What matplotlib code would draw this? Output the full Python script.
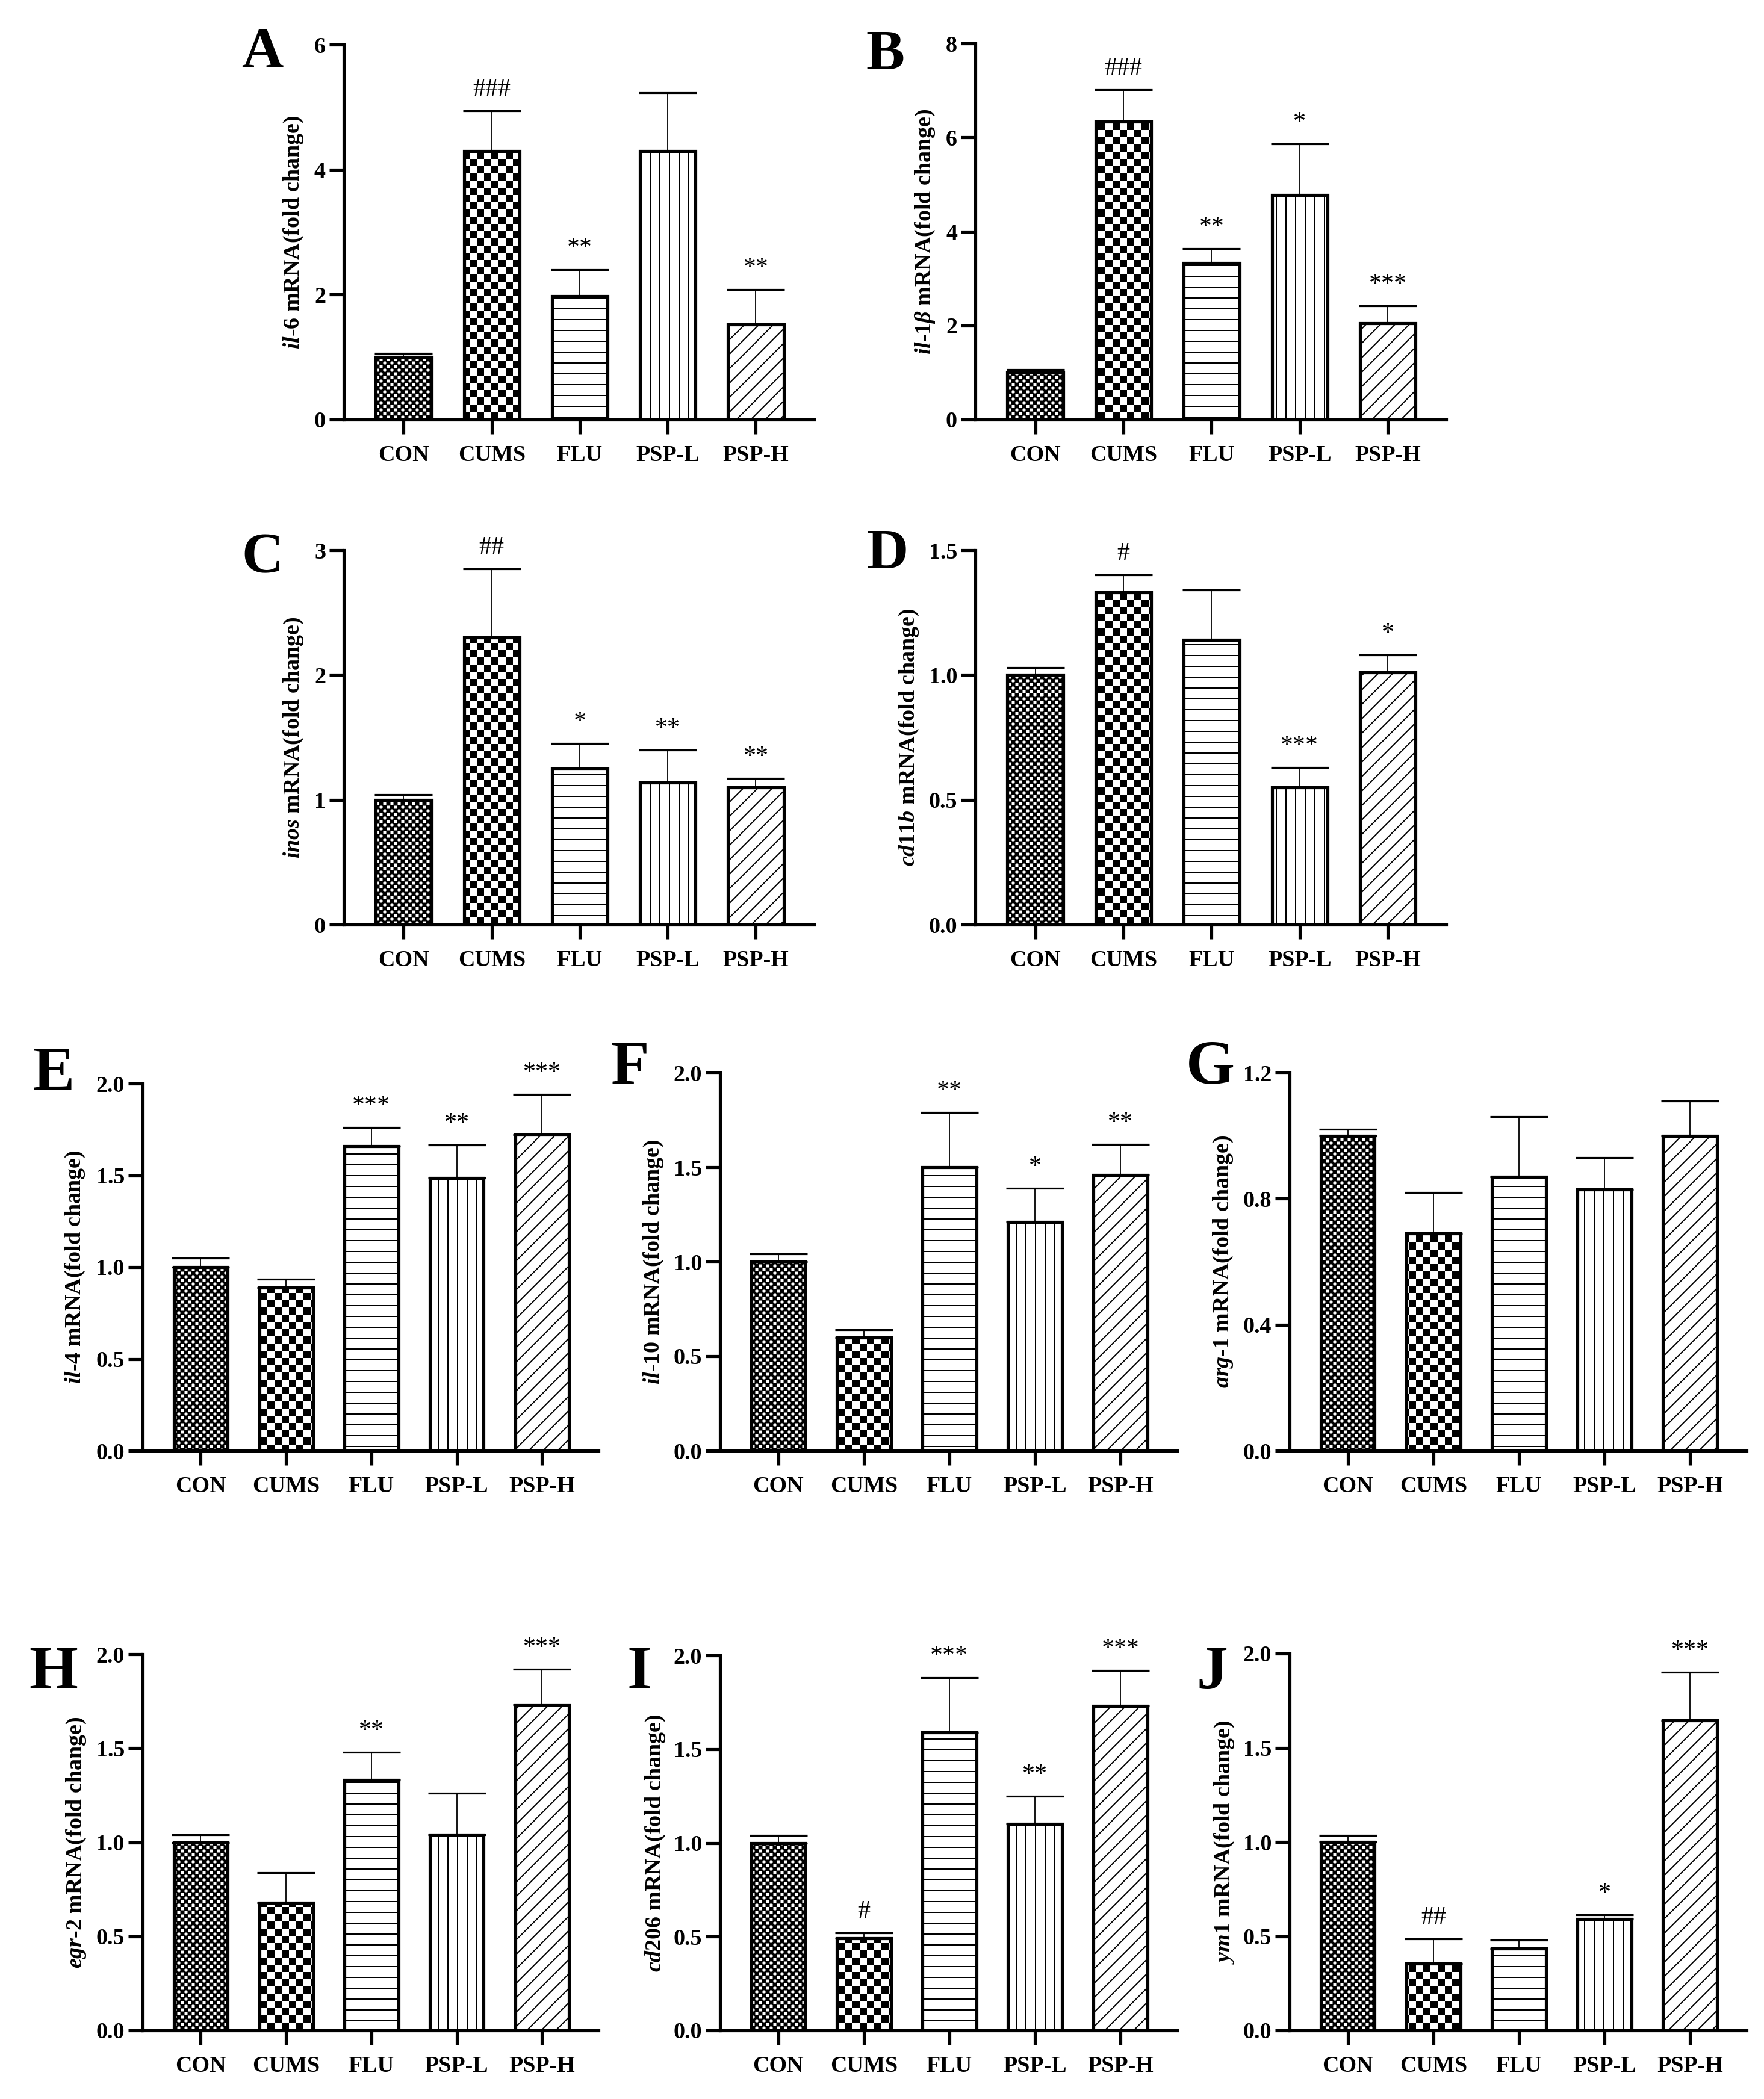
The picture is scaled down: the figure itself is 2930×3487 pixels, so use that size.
import warnings
warnings.filterwarnings('ignore')
import numpy as np
import matplotlib
matplotlib.use('Agg')
import matplotlib.pyplot as plt
import matplotlib.hatch as mhatch
from matplotlib.path import Path

# ---------------- data ----------------
categories = ['CON', 'CUMS', 'FLU', 'PSP-L', 'PSP-H']

il6_mean = [1.0, 4.30, 1.97, 4.30, 1.52]
il6_sem = [0.06, 0.64, 0.43, 0.93, 0.56]
il6_sig = ['', '###', '**', '', '**']

il1b_mean = [1.0, 6.34, 3.33, 4.78, 2.05]
il1b_sem = [0.06, 0.68, 0.30, 1.08, 0.37]
il1b_sig = ['', '###', '**', '*', '***']

inos_mean = [1.0, 2.30, 1.25, 1.14, 1.10]
inos_sem = [0.04, 0.55, 0.20, 0.26, 0.07]
inos_sig = ['', '##', '*', '**', '**']

cd11b_mean = [1.0, 1.33, 1.14, 0.55, 1.01]
cd11b_sem = [0.03, 0.07, 0.20, 0.08, 0.07]
cd11b_sig = ['', '#', '', '***', '*']

il4_mean = [1.0, 0.89, 1.66, 1.485, 1.72]
il4_sem = [0.05, 0.045, 0.10, 0.18, 0.22]
il4_sig = ['', '', '***', '**', '***']

il10_mean = [1.0, 0.60, 1.50, 1.21, 1.46]
il10_sem = [0.04, 0.04, 0.29, 0.18, 0.16]
il10_sig = ['', '', '**', '*', '**']

arg1_mean = [1.0, 0.69, 0.87, 0.83, 1.0]
arg1_sem = [0.02, 0.13, 0.19, 0.10, 0.11]
arg1_sig = ['', '', '', '', '']

egr2_mean = [1.0, 0.68, 1.33, 1.04, 1.73]
egr2_sem = [0.04, 0.16, 0.15, 0.22, 0.19]
egr2_sig = ['', '', '**', '', '***']

cd206_mean = [1.0, 0.49, 1.59, 1.10, 1.73]
cd206_sem = [0.04, 0.03, 0.29, 0.15, 0.19]
cd206_sig = ['', '#', '***', '**', '***']

ym1_mean = [1.0, 0.355, 0.435, 0.59, 1.645]
ym1_sem = [0.035, 0.13, 0.045, 0.025, 0.255]
ym1_sig = ['', '##', '', '*', '***']

# ---------------- custom hatches ----------------
class CheckerHatch(mhatch.HatchPatternBase):
    # (cells per inch, inset in unit coords)
    specs = {'k': (48, 0.5 / 288), 'K': (24, 1.0 / 288)}

    def __init__(self, hatch, density):
        self.n, self.inset = 0, 0.0
        for ch, (n, ins) in self.specs.items():
            if ch in hatch:
                self.n, self.inset = n, ins
        self.num_vertices = (self.n * self.n // 2) * 5

    def set_vertices_and_codes(self, vertices, codes):
        n = self.n
        ii, jj = np.meshgrid(np.arange(n), np.arange(n))
        m = (ii + jj) % 2 == 0
        base = np.stack([ii[m], jj[m]], axis=-1).astype(float) / n
        s = 1.0 / n
        a, b = self.inset, s - self.inset
        sq = np.array([[a, a], [b, a], [b, b], [a, b], [a, a]], float)
        v = base[:, None, :] + sq[None, :, :]
        vertices[:] = v.reshape(-1, 2)
        c = np.array([Path.MOVETO, Path.LINETO, Path.LINETO, Path.LINETO,
                      Path.CLOSEPOLY], dtype=Path.code_type)
        codes[:] = np.tile(c, len(base))


class HLineHatch(mhatch.HatchPatternBase):
    def __init__(self, hatch, density):
        self.num_lines = 16 * hatch.count('h')
        self.num_vertices = self.num_lines * 2

    def set_vertices_and_codes(self, vertices, codes):
        steps = (np.arange(self.num_lines) + 0.5) / self.num_lines
        vertices[0::2, 0] = 0.0
        vertices[0::2, 1] = steps
        vertices[1::2, 0] = 1.0
        vertices[1::2, 1] = steps
        codes[0::2] = Path.MOVETO
        codes[1::2] = Path.LINETO


mhatch._hatch_types.extend([CheckerHatch, HLineHatch])
hatches = ['k', 'K', 'h', '|||', '////']

# ---------------- style ----------------
W, H = 2930, 3487
DPI = 288
FONT = 'Liberation Serif'
plt.rcParams['font.family'] = [FONT, 'DejaVu Serif']
plt.rcParams['hatch.linewidth'] = 0.5
plt.rcParams['mathtext.fontset'] = 'custom'
plt.rcParams['mathtext.it'] = 'Liberation Serif:italic:bold'
plt.rcParams['mathtext.rm'] = 'Liberation Serif:bold'
plt.rcParams['mathtext.bf'] = 'Liberation Serif:bold'

fig = plt.figure(figsize=(W / DPI, H / DPI), dpi=DPI)
fig.patch.set_facecolor('white')

LW = 1.3


def panel(px, means, sems, sig, ymax, yticks, yticklabels, ylabel,
          letter, letter_xy, letter_size, ylab_off):
    x0, x1, ytop, ybot = px
    ax = fig.add_axes([x0 / W, 1 - ybot / H, (x1 - x0) / W, (ybot - ytop) / H])
    x = np.arange(len(categories))
    ax.errorbar(x, means, yerr=[np.zeros(len(sems)), sems], fmt='none',
                ecolor='black', elinewidth=0.45, capsize=12, capthick=0.8,
                zorder=1)
    ax.bar(x, means, width=0.63, color='white', edgecolor='black',
           linewidth=LW, hatch=hatches, zorder=2)
    for xi, m, s, t in zip(x, means, sems, sig):
        if t:
            ax.annotate(t, xy=(xi, m + s), xytext=(0, 4),
                        textcoords='offset points', ha='center', va='bottom',
                        fontsize=10.5, family=FONT, annotation_clip=False)
    ax.set_xlim(-0.68, 4.66)
    ax.set_ylim(0, ymax)
    ax.set_yticks(yticks)
    ax.set_yticklabels(yticklabels, fontsize=9.5, fontweight='bold', family=FONT)
    ax.set_xticks(x)
    ax.set_xticklabels(categories, fontsize=9.5, fontweight='bold', family=FONT)
    for sp in ['top', 'right']:
        ax.spines[sp].set_visible(False)
    for sp in ['left', 'bottom']:
        ax.spines[sp].set_linewidth(LW)
    ax.tick_params(axis='both', direction='out', length=6, width=LW)
    ax.tick_params(axis='x', pad=4.5)
    ax.tick_params(axis='y', pad=1.5)
    ax.set_ylabel(ylabel, fontsize=9.5, fontweight='bold', family=FONT)
    ax.yaxis.label.set_verticalalignment('center')
    ax.yaxis.set_label_coords(-ylab_off / (x1 - x0), 0.5)
    fig.text(letter_xy[0] / W, 1 - letter_xy[1] / H, letter, ha='center',
             va='baseline', fontsize=letter_size, fontweight='bold', family=FONT)
    return ax


t2 = [0, 0.5, 1.0, 1.5, 2.0]
t2l = ['0.0', '0.5', '1.0', '1.5', '2.0']

panel((571, 1352, 74, 697), il6_mean, il6_sem, il6_sig, 6, [0, 2, 4, 6],
      ['0', '2', '4', '6'], r'$\mathit{il}$-$\mathit{6}$ mRNA(fold change)',
      'A', (436, 112), 24, 83)
panel((1620, 2402, 72, 697), il1b_mean, il1b_sem, il1b_sig, 8, [0, 2, 4, 6, 8],
      ['0', '2', '4', '6', '8'], r'$\mathit{il}$-$\mathit{1\beta}$ mRNA(fold change)',
      'B', (1470, 116), 24, 83)
panel((571, 1352, 914, 1536), inos_mean, inos_sem, inos_sig, 3, [0, 1, 2, 3],
      ['0', '1', '2', '3'], r'$\mathit{inos}$ mRNA(fold change)',
      'C', (436, 951), 24, 83)
panel((1620, 2402, 914, 1536), cd11b_mean, cd11b_sem, cd11b_sig, 1.5,
      [0, 0.5, 1.0, 1.5], ['0.0', '0.5', '1.0', '1.5'],
      r'$\mathit{cd11b}$ mRNA(fold change)', 'D', (1474, 945), 24, 110)

panel((237, 994, 1800, 2410), il4_mean, il4_sem, il4_sig, 2.0, t2, t2l,
      r'$\mathit{il}$-$\mathit{4}$ mRNA(fold change)', 'E', (89, 1810), 26, 112)
panel((1196, 1955, 1782, 2410), il10_mean, il10_sem, il10_sig, 2.0, t2, t2l,
      r'$\mathit{il}$-$\mathit{10}$ mRNA(fold change)', 'F', (1046, 1800), 26, 110)
panel((2142, 2901, 1782, 2410), arg1_mean, arg1_sem, arg1_sig, 1.2,
      [0, 0.4, 0.8, 1.2], ['0.0', '0.4', '0.8', '1.2'],
      r'$\mathit{arg}$-$\mathit{1}$ mRNA(fold change)', 'G', (2010, 1800), 26, 110)

panel((237, 994, 2748, 3373), egr2_mean, egr2_sem, egr2_sig, 2.0, t2, t2l,
      r'$\mathit{egr}$-$\mathit{2}$ mRNA(fold change)', 'H', (89, 2805), 26, 110)
panel((1196, 1955, 2750, 3373), cd206_mean, cd206_sem, cd206_sig, 2.0, t2, t2l,
      r'$\mathit{cd206}$ mRNA(fold change)', 'I', (1062, 2805), 26, 107)
panel((2142, 2901, 2747, 3373), ym1_mean, ym1_sem, ym1_sig, 2.0, t2, t2l,
      r'$\mathit{ym1}$ mRNA(fold change)', 'J', (2013, 2805), 26, 108)

fig.savefig('out.png', dpi=DPI, facecolor='white')
